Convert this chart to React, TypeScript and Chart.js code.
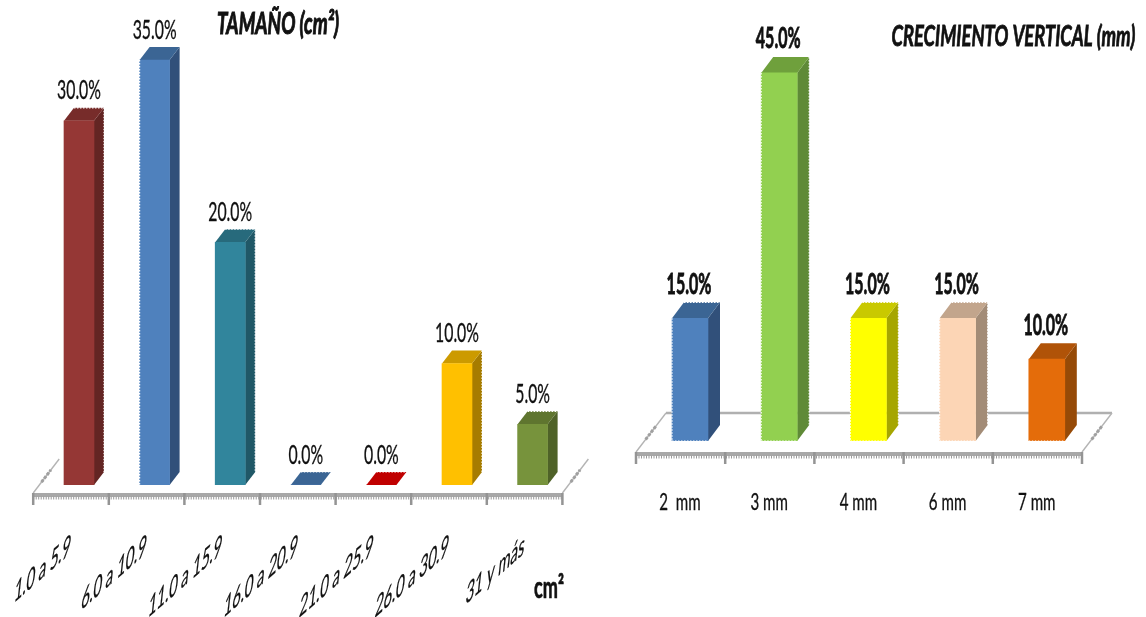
import { useEffect, useRef } from "react";
import { Chart, registerables } from "chart.js";

Chart.register(...registerables);

const FACE = "Lato, Carlito, sans-serif";

const sizeCategories = ["1.0 a 5.9", "6.0 a 10.9", "11.0 a 15.9", "16.0 a 20.9", "21.0 a 25.9", "26.0 a 30.9", "31 y más"];
const sizeValues = [30, 35, 20, 0, 0, 10, 5];
const sizeFront = ["#953735", "#4f81bd", "#31859c", "#4f81bd", "#c00000", "#ffc000", "#77933c"];
const sizeTop = ["#772c2a", "#3b6594", "#276a7c", "#3b6594", "#c00000", "#cc9a00", "#5f752f"];
const sizeSide = ["#632523", "#31507a", "#205867", "#31507a", "#a00000", "#a67c00", "#4f6228"];
const sizeRough = ["TR", "L", "TR", "T", "T", "R", "T"];

const growthCategories = ["2  mm", "3 mm", "4 mm", "6 mm", "7 mm"];
const growthValues = [15, 45, 15, 15, 10];
const growthFront = ["#4f81bd", "#92d050", "#ffff00", "#fcd5b5", "#e46c0a"];
const growthTop = ["#3b6594", "#6fa03c", "#c9c900", "#c2a58c", "#b05308"];
const growthSide = ["#31507a", "#5f8a37", "#a6a600", "#a38c77", "#964a07"];
const growthRough = ["TBL", "RBL", "TRBL", "TRBL", "B"];

// Text under an arbitrary linear map [a, b, c, d] anchored at (x, y).
function warpedText(ctx: any, text: string, x: number, y: number, font: string, m: number[], align = "center", heavy = 0) {
  ctx.save();
  ctx.transform(m[0], m[1], m[2], m[3], x, y);
  ctx.font = font;
  ctx.fillStyle = "#111";
  ctx.textAlign = align;
  ctx.textBaseline = "alphabetic";
  ctx.fillText(text, 0, 0);
  if (heavy) {
    ctx.strokeStyle = "#111";
    ctx.lineWidth = heavy;
    ctx.strokeText(text, 0, 0);
  }
  ctx.restore();
}

// Text squeezed to a given width and stretched upward from its baseline.
function fittedText(ctx: any, text: string, x: number, y: number, font: string, width: number, sy: number, heavy: number) {
  ctx.save();
  ctx.font = font;
  const sx = width / ctx.measureText(text).width;
  ctx.restore();
  warpedText(ctx, text, x, y, font, [sx, 0, 0, sy], "center", heavy);
}

function poly(ctx: any, pts: number[][], fill: string) {
  ctx.beginPath();
  pts.forEach((p, i) => (i ? ctx.lineTo(p[0], p[1]) : ctx.moveTo(p[0], p[1])));
  ctx.closePath();
  ctx.fillStyle = fill;
  ctx.fill();
}

function segment(ctx: any, x0: number, y0: number, x1: number, y1: number) {
  ctx.beginPath();
  ctx.moveTo(x0, y0);
  ctx.lineTo(x1, y1);
  ctx.stroke();
}

// Thick grey rail with fine hatching along the front edge of the floor.
function rail(ctx: any, x0: number, x1: number, y: number, bounds: number[]) {
  ctx.save();
  ctx.strokeStyle = "#a8a8a8";
  ctx.lineWidth = 4;
  segment(ctx, x0, y + 2, x1, y + 2);
  ctx.strokeStyle = "#9a9a9a";
  ctx.lineWidth = 3;
  ctx.setLineDash([1, 1.5]);
  segment(ctx, x0, y + 5, x1, y + 5);
  ctx.setLineDash([]);
  ctx.strokeStyle = "#949494";
  ctx.lineWidth = 2.5;
  bounds.forEach((b) => segment(ctx, b, y, b, y + 12));
  ctx.restore();
}

function diagonal(ctx: any, x0: number, y0: number, x1: number, y1: number) {
  ctx.save();
  ctx.strokeStyle = "#b4b4b4";
  ctx.lineWidth = 1.4;
  segment(ctx, x0, y0, x1, y1);
  const mx = (x0 + x1) / 2;
  const my = (y0 + y1) / 2;
  const ux = (x1 - x0) * 0.18;
  const uy = (y1 - y0) * 0.18;
  ctx.lineWidth = 3;
  ctx.strokeStyle = "#a0a0a0";
  ctx.setLineDash([3, 1.5]);
  segment(ctx, mx - ux, my - uy, mx + ux, my + uy);
  ctx.restore();
}

// Extrudes each bar into a box, lays out the floor, and writes the axis and value labels.
const prismPlugin = {
  id: "prism",
  beforeDatasetsDraw(chart: any, _args: any, opts: any) {
    const { ctx } = chart;
    const xs = chart.scales.x;
    const ys = chart.scales.y;
    const base = ys.getPixelForValue(0);
    const cat = xs.width / xs.ticks.length;
    const frontY = base + opts.floorDrop;
    const x0 = xs.left - opts.floorShift;
    const x1 = xs.right - opts.floorShift;
    const bounds = xs.ticks.map((_: any, i: number) => x0 + i * cat).concat(x1);

    if (opts.backLine) {
      ctx.save();
      ctx.strokeStyle = "#b0b0b0";
      ctx.lineWidth = 2.5;
      segment(ctx, x0 + opts.floorDx, frontY - opts.floorDy, x1 + opts.floorDx, frontY - opts.floorDy);
      ctx.restore();
    }
    diagonal(ctx, x0, frontY, x0 + opts.floorDx, frontY - opts.floorDy);
    diagonal(ctx, x1, frontY, x1 + opts.floorDx, frontY - opts.floorDy);
    rail(ctx, x0, x1, frontY, bounds);

    chart.getDatasetMeta(0).data.forEach((bar: any, i: number) => {
      const half = bar.width / 2;
      const l = bar.x - half;
      const r = bar.x + half;
      const t = bar.y;
      poly(ctx, [[r, t], [r + opts.dx, t - opts.dy], [r + opts.dx, base - opts.dy], [r, base]], opts.side[i]);
      poly(ctx, [[l, t], [l + opts.dx, t - opts.dy], [r + opts.dx, t - opts.dy], [r, t]], opts.top[i]);
    });
  },
  afterDatasetsDraw(chart: any, _args: any, opts: any) {
    const { ctx } = chart;
    const xs = chart.scales.x;
    const ys = chart.scales.y;
    const base = ys.getPixelForValue(0);
    const values = chart.data.datasets[0].data;
    chart.getDatasetMeta(0).data.forEach((bar: any, i: number) => {
      const half = bar.width / 2;
      const l = bar.x - half;
      const r = bar.x + half;
      const t = bar.y;

      // Saw-toothed bar edges.
      ctx.save();
      ctx.strokeStyle = "#fff";
      ctx.lineWidth = 1.2;
      ctx.setLineDash([1.5, 1.5]);
      const rough = opts.rough[i];
      if (rough.includes("T")) segment(ctx, l + opts.dx, t - opts.dy, r + opts.dx, t - opts.dy);
      if (rough.includes("R")) segment(ctx, r + opts.dx, t - opts.dy, r + opts.dx, base - opts.dy);
      if (rough.includes("L")) segment(ctx, l, t, l, base);
      if (rough.includes("B")) segment(ctx, l, base, r, base);
      ctx.restore();

      const label = values[i].toFixed(1) + "%";
      warpedText(ctx, label, bar.x + opts.labelDx, t - opts.dy - opts.labelGap, opts.labelFont, opts.labelMap, "center", opts.labelHeavy);
    });

    xs.ticks.forEach((tick: any, i: number) => {
      const name = chart.data.labels[i];
      warpedText(ctx, name, xs.getPixelForTick(i) + opts.tickDx, base + opts.tickDy, opts.tickFont, opts.tickMap, opts.tickAlign, opts.tickHeavy);
    });

    opts.notes.forEach((n: any) => fittedText(ctx, n.text, n.x, n.y, n.font, n.width, n.stretch, n.heavy));
  },
};

function makeChart(canvas: HTMLCanvasElement, cfg: any) {
  return new Chart(canvas, {
    type: "bar",
    plugins: [prismPlugin],
    data: {
      labels: cfg.labels,
      datasets: [
        {
          data: cfg.values,
          backgroundColor: cfg.front,
          borderWidth: 0,
          barThickness: cfg.barWidth,
        },
      ],
    },
    options: {
      responsive: false,
      animation: false,
      layout: { padding: cfg.padding },
      plugins: {
        legend: { display: false },
        tooltip: { enabled: false },
        prism: cfg.prism,
      },
      scales: {
        y: { display: false, min: 0, max: cfg.yMax },
        x: {
          border: { display: false },
          grid: { display: false },
          ticks: { display: false, autoSkip: false },
          afterFit(scale: any) {
            scale.height = cfg.axisHeight;
            scale.paddingLeft = 0;
            scale.paddingRight = 0;
          },
        },
      },
    } as any,
  });
}

export default function App() {
  const leftRef = useRef<HTMLCanvasElement>(null);
  const rightRef = useRef<HTMLCanvasElement>(null);

  useEffect(() => {
    const left = makeChart(leftRef.current!, {
      labels: sizeCategories,
      values: sizeValues,
      front: sizeFront,
      barWidth: 30,
      yMax: 38,
      padding: { left: 41.2, right: 39.6, top: 23.7, bottom: 0 },
      axisHeight: 132,
      prism: {
        dx: 10,
        dy: 13,
        top: sizeTop,
        side: sizeSide,
        rough: sizeRough,
        floorShift: 8,
        floorDrop: 8,
        floorDx: 26,
        floorDy: 34,
        backLine: false,
        labelDx: 0,
        labelGap: 8.5,
        labelFont: `20px ${FACE}`,
        labelMap: [0.79, 0, 0, 1.36],
        labelHeavy: 0.25,
        tickDx: -9,
        tickDy: 69,
        tickFont: `24px ${FACE}`,
        tickMap: [0.62, -0.54, -0.14, 1.25],
        tickAlign: "right",
        tickHeavy: 0.25,
        notes: [
          { text: "TAMAÑO (cm²)", x: 278, y: 34, font: `italic bold 20px ${FACE}`, width: 122, stretch: 1.5, heavy: 0.7 },
          { text: "cm²", x: 549, y: 598, font: `bold 22px ${FACE}`, width: 30, stretch: 1.35, heavy: 0.5 },
        ],
      },
    });
    const right = makeChart(rightRef.current!, {
      labels: growthCategories,
      values: growthValues,
      front: growthFront,
      barWidth: 36,
      yMax: 50,
      padding: { left: 35.4, right: 54.6, top: 32, bottom: 0 },
      axisHeight: 176,
      prism: {
        dx: 12,
        dy: 16,
        top: growthTop,
        side: growthSide,
        rough: growthRough,
        floorShift: 9.4,
        floorDrop: 11,
        floorDx: 30,
        floorDy: 39,
        backLine: true,
        labelDx: -1,
        labelGap: 8.5,
        labelFont: `bold 20px ${FACE}`,
        labelMap: [0.8, 0, 0, 1.4],
        labelHeavy: 0.6,
        tickDx: -10,
        tickDy: 69,
        tickFont: `18px ${FACE}`,
        tickMap: [0.84, 0, 0, 1.32],
        tickAlign: "center",
        tickHeavy: 0.25,
        notes: [
          { text: "CRECIMIENTO VERTICAL (mm)", x: 403.5, y: 46, font: `italic bold 20px ${FACE}`, width: 244, stretch: 1.4, heavy: 0.6 },
        ],
      },
    });
    return () => {
      left.destroy();
      right.destroy();
    };
  }, []);

  return (
    <div style={{ position: "absolute", left: 0, top: 0, width: 1146, height: 617, background: "#fff", overflow: "hidden" }}>
      <canvas ref={leftRef} width={610} height={617} style={{ position: "absolute", left: 0, top: 0 }} />
      <canvas ref={rightRef} width={536} height={617} style={{ position: "absolute", left: 610, top: 0 }} />
    </div>
  );
}
